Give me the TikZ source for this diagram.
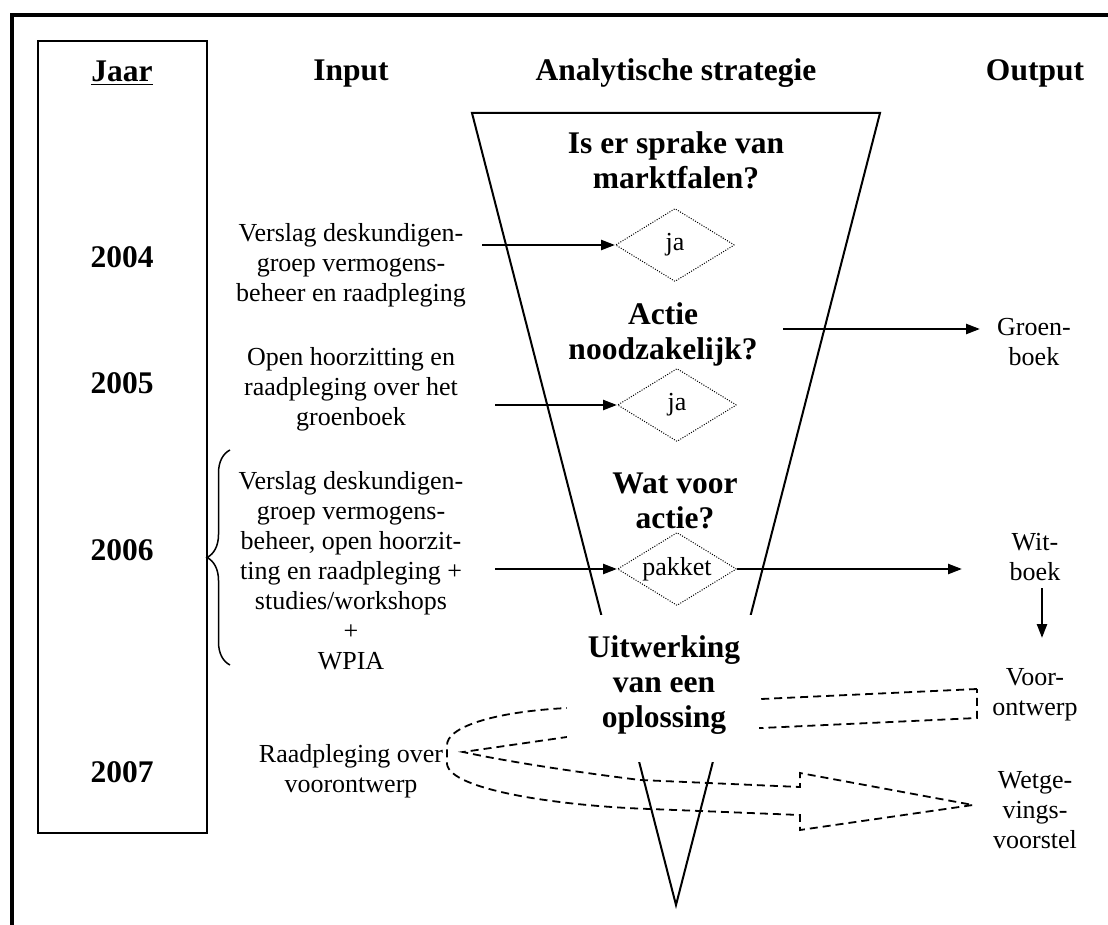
\documentclass[tikz,border=0pt]{standalone}
\usepackage{fontspec}
\setmainfont{Liberation Serif}
\usetikzlibrary{arrows.meta,shapes.geometric,decorations.pathreplacing}

\begin{document}
\begin{tikzpicture}[x=1pt, y=-1pt, >={Triangle[length=14pt,width=10pt]}]
    \tikzset{txt/.style={align=center, inner sep=1pt, font=\fontsize{26}{30}\selectfont},
        kop/.style={align=center, inner sep=1pt, font=\fontsize{31.5}{35}\selectfont\bfseries},
        keuze/.style={diamond, draw, dash pattern=on 1pt off 1.5pt, line width=1pt,
            minimum width=119pt, minimum height=73pt, inner sep=0pt, aspect=1.6,
            font=\fontsize{26}{30}\selectfont},
        pijl/.style={->, line width=2.4pt},
        blok/.style={dash pattern=on 8pt off 5pt, line width=1.8pt}}
    \useasboundingbox (0,0) rectangle (1108,925);
    \draw[line width=3.5pt] (12,925) -- (12,15) -- (1108,15);
    \draw[line width=2pt] (38,41) rectangle (207,833);
    \draw[line width=2pt] (472,113) -- (880,113) -- (676,905) -- cycle;
    \draw[blok] (977,689) -- (567,708) .. controls (490,712) and (447,728) .. (447,745)
        -- (447,764) .. controls (450,790) and (560,806) .. (650,809)
        -- (800,815) -- (800,830) -- (973,805) -- (800,773) -- (800,787)
        -- (640,780) .. controls (560,770) and (500,760) .. (463,752)
        -- (567,737) -- (977,718) -- cycle;
    \fill[white] (567,615) rectangle (759,762);

    \node[kop, anchor=base] (jaar) at (122,82) {\underline{Jaar}};
    \node[kop, anchor=base] (input) at (351,81) {Input};
    \node[kop, anchor=base] (strat) at (676,81) {Analytische strategie};
    \node[kop, anchor=base] (output) at (1035,81) {Output};

    \node[kop] (j04) at (122,257) {2004};
    \node[kop] (j05) at (122,383) {2005};
    \node[kop] (j06) at (122,550) {2006};
    \node[kop] (j07) at (122,772) {2007};

    \node[txt] (in04) at (351,265) {Verslag deskundigen-\\groep vermogens-\\beheer en raadpleging};
    \node[txt] (in05) at (351,389) {Open hoorzitting en\\raadpleging over het\\groenboek};
    \node[txt] (in06) at (351,571) {Verslag deskundigen-\\groep vermogens-\\beheer, open hoorzit-\\ting en raadpleging +\\studies/workshops\\+\\WPIA};
    \node[txt] (in07) at (351,771) {Raadpleging over\\voorontwerp};
    \draw[line width=1.5pt, decorate, decoration={brace, amplitude=23pt}] (230,665) -- (230,450);

    \node[kop] (q1) at (676,160) {Is er sprake van\\marktfalen?};
    \node[kop] (q2) at (663,334) {Actie\\noodzakelijk?};
    \node[kop] (q3) at (675,501) {Wat voor\\actie?};
    \node[kop] (q4) at (664,685) {Uitwerking\\van een\\oplossing};

    \node[keuze] (d1) at (675,245) {ja};
    \node[keuze] (d2) at (677,405) {ja};
    \node[keuze] (d3) at (677,569) {pakket};

    \node[txt] (groen) at (1034,342) {Groen-\\boek};
    \node[txt] (wit) at (1035,557) {Wit-\\boek};
    \node[txt] (voor) at (1035,695) {Voor-\\ontwerp};
    \node[txt] (wet) at (1035,810) {Wetge-\\vings-\\voorstel};

    \coordinate (s04) at (482,245);
    \coordinate (s05) at (495,405);
    \coordinate (s06) at (495,569);
    \coordinate (sq2) at (783,329);
    \coordinate (eq2) at (980,329);
    \coordinate (ed3) at (962,569);
    \coordinate (swit) at (1042,588);
    \coordinate (ewit) at (1042,638);
    \draw[pijl] (s04) -- (d1.west);
    \draw[pijl] (s05) -- (d2.west);
    \draw[pijl] (s06) -- (d3.west);
    \draw[pijl] (sq2) -- (eq2);
    \draw[pijl] (d3.east) -- (ed3);
    \draw[pijl] (swit) -- (ewit);
\end{tikzpicture}
\end{document}
